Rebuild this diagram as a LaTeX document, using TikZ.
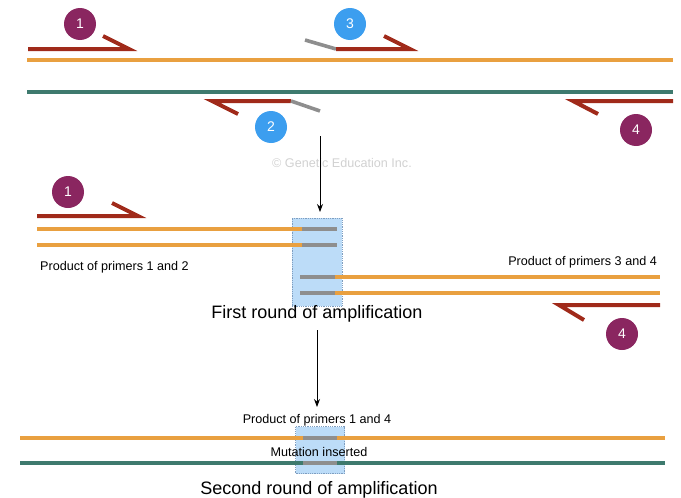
\documentclass[tikz,border=0pt]{standalone}
\usepackage{fontspec}
\setmainfont{Liberation Sans}
\usetikzlibrary{arrows.meta}
\definecolor{strandor}{HTML}{E9A040}
\definecolor{strandte}{HTML}{3E7A6E}
\definecolor{primred}{HTML}{A02A1A}
\definecolor{circpur}{HTML}{8A2660}
\definecolor{circblu}{HTML}{3C9EEF}
\definecolor{mutgray}{HTML}{8E8E8E}
\definecolor{boxblue}{HTML}{BCDCF8}
\definecolor{boxedge}{HTML}{7F9EC0}
\tikzset{
  orstrand/.style={line width=4pt,strandor},
  testrand/.style={line width=4pt,strandte},
  primer/.style={line width=4pt,primred},
  tail/.style={line width=3.6pt,mutgray},
  mutbox/.style={fill=boxblue,draw=boxedge,densely dotted,line width=0.8pt},
  numpur/.style={circle,fill=circpur,text=white,minimum size=32pt,inner sep=0pt,font=\fontsize{14}{14}\selectfont},
  numblu/.style={circle,fill=circblu,text=white,minimum size=32pt,inner sep=0pt,font=\fontsize{14}{14}\selectfont},
  small/.style={inner sep=0pt,font=\fontsize{12.6}{13}\selectfont},
  big/.style={inner sep=0pt,font=\fontsize{18}{18}\selectfont},
  step arrow/.style={-{Stealth[length=8pt,width=6pt]},line width=0.9pt,black},
}
\begin{document}
\begin{tikzpicture}[x=1pt,y=-1pt]
\useasboundingbox (0,0) rectangle (681,498);
% ---------- top: template strands and primers
\draw[orstrand] (27,60) -- (673,60);
\draw[testrand] (27,92) -- (673,92);
% primer 1
\draw[primer] (28,49) -- (129,49) -- (103,36);
\node[numpur] (c1a) at (80,24) {1};
% primer 3
\draw[tail] (305,40) -- (336,49);
\draw[primer] (336,49) -- (410,49) -- (384,36);
\node[numblu] (c3) at (350,24) {3};
% primer 2
\draw[primer] (291,101) -- (212,101) -- (238,114);
\draw[tail] (291,101) -- (320,111);
\node[numblu] (c2) at (271,127) {2};
% primer 4
\draw[primer] (673,101) -- (573,101) -- (598,114);
\node[numpur] (c4a) at (636,130) {4};
% watermark
\node[inner sep=0pt,text=black!18,font=\fontsize{12.6}{13}\selectfont] (wm) at (342,163) {© Genetic Education Inc.};
% arrow 1
\coordinate (a1s) at (320,136);
\coordinate (a1e) at (320,212);
\draw[step arrow] (a1s) -- (a1e);
% ---------- first round
\node[mutbox,minimum width=50pt,minimum height=88pt,inner sep=0pt] (box1) at (317,262) {};
\node[numpur] (c1b) at (68,192) {1};
\draw[primer] (37,216) -- (138,216) -- (112,203);
\draw[orstrand] (37,229) -- (302,229);
\draw[tail] (302,229) -- (337,229);
\draw[orstrand] (37,245) -- (302,245);
\draw[tail] (302,245) -- (337,245);
\node[small,anchor=west] (p12) at (40,267) {Product of primers 1 and 2};
\node[small,anchor=east] (p34) at (657,262) {Product of primers 3 and 4};
\draw[tail] (300,277) -- (335,277);
\draw[orstrand] (335,277) -- (660,277);
\draw[tail] (300,293) -- (335,293);
\draw[orstrand] (335,293) -- (660,293);
\draw[primer] (660,305) -- (559,305) -- (584,320);
\node[numpur] (c4b) at (622,334) {4};
\node[big] (r1) at (317,314) {First round of amplification};
% arrow 2
\coordinate (a2s) at (317,330);
\coordinate (a2e) at (317,407);
\draw[step arrow] (a2s) -- (a2e);
% ---------- second round
\node[small] (p14) at (317,420) {Product of primers 1 and 4};
\node[mutbox,minimum width=49pt,minimum height=47pt,inner sep=0pt] (box2) at (320,450) {};
\draw[orstrand] (20,438) -- (665,438);
\draw[tail] (303,438) -- (337,438);
\draw[testrand] (20,463) -- (665,463);
\draw[tail] (303,463) -- (337,463);
\node[small] (mi) at (319,452) {Mutation inserted};
\node[big] (r2) at (319,490) {Second round of amplification};
\end{tikzpicture}
\end{document}
